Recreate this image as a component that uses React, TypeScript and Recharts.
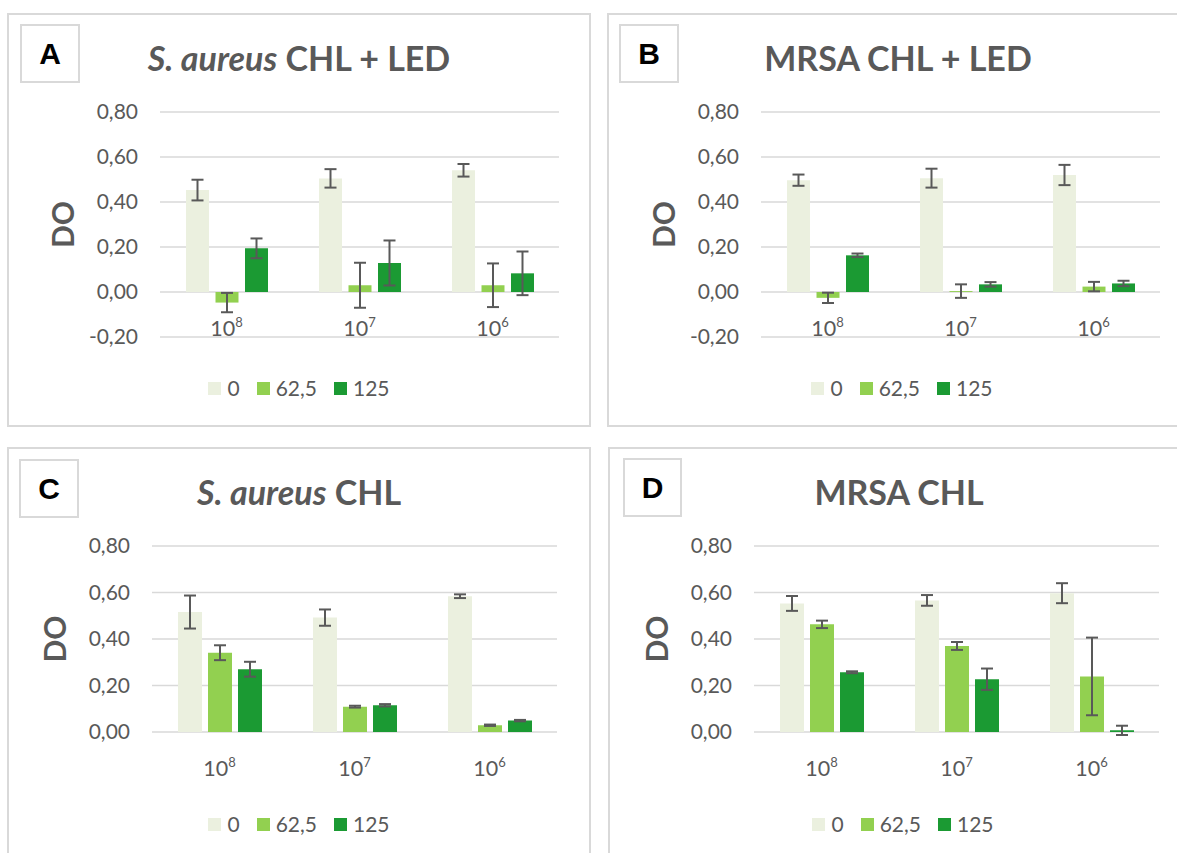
import React from 'react';
import { BarChart, Bar, XAxis, YAxis, CartesianGrid, ErrorBar, Legend } from 'recharts';

// ---------- data ----------
const categories = ['10^8', '10^7', '10^6'];
const seriesNames = ['0', '62,5', '125'];
const seriesColors = ['#EBF0DF', '#92D050', '#1B9A33'];

const ticksWithNeg = [-0.2, 0, 0.2, 0.4, 0.6, 0.8];
const ticksPos = [0, 0.2, 0.4, 0.6, 0.8];

// A: S. aureus CHL + LED
const aVal0 = [0.453, 0.505, 0.541];
const aErr0 = [0.046, 0.041, 0.028];
const aVal62 = [-0.047, 0.03, 0.03];
const aErr62 = [0.043, 0.1, 0.097];
const aVal125 = [0.194, 0.129, 0.083];
const aErr125 = [0.044, 0.1, 0.097];

// B: MRSA CHL + LED
const bVal0 = [0.497, 0.506, 0.52];
const bErr0 = [0.025, 0.042, 0.045];
const bVal62 = [-0.026, 0.004, 0.024];
const bErr62 = [0.023, 0.03, 0.021];
const bVal125 = [0.163, 0.034, 0.038];
const bErr125 = [0.008, 0.01, 0.012];

// C: S. aureus CHL
const cVal0 = [0.516, 0.492, 0.584];
const cErr0 = [0.071, 0.035, 0.008];
const cVal62 = [0.341, 0.109, 0.029];
const cErr62 = [0.032, 0.004, 0.003];
const cVal125 = [0.27, 0.115, 0.049];
const cErr125 = [0.032, 0.005, 0.003];

// D: MRSA CHL
const dVal0 = [0.553, 0.566, 0.597];
const dErr0 = [0.032, 0.023, 0.043];
const dVal62 = [0.463, 0.37, 0.239];
const dErr62 = [0.016, 0.017, 0.167];
const dVal125 = [0.257, 0.227, 0.007];
const dErr125 = [0.004, 0.046, 0.02];

function buildRows(v0: number[], e0: number[], v1: number[], e1: number[], v2: number[], e2: number[]) {
  return categories.map((cat, i) => ({
    cat,
    s0: v0[i], e0: e0[i],
    s1: v1[i], e1: e1[i],
    s2: v2[i], e2: e2[i],
  }));
}

const TEXT = '#595959';
const GRID = '#D9D9D9';
const FONT = 'Lato, "Open Sans", sans-serif';

const panels = [
  {
    letter: 'A',
    title: (<><i>S. aureus</i> CHL + LED</>),
    box: { left: 7, top: 13, width: 584, height: 414 },
    letterBox: { left: 20, top: 24, width: 60, height: 59 },
    titleCenter: { x: 299, y: 58 },
    plot: { left: 160, top: 112, right: 559, bottom: 337 },
    domain: [-0.2, 0.8],
    ticks: ticksWithNeg,
    barSize: 23,
    barGap: 6.5,
    legendY: 388,
    labelOffset: -1,
    rows: buildRows(aVal0, aErr0, aVal62, aErr62, aVal125, aErr125),
  },
  {
    letter: 'B',
    title: (<>MRSA CHL + LED</>),
    box: { left: 607, top: 13, width: 590, height: 414 },
    letterBox: { left: 619, top: 24, width: 60, height: 59 },
    titleCenter: { x: 898, y: 58 },
    plot: { left: 761, top: 112, right: 1160, bottom: 337 },
    domain: [-0.2, 0.8],
    ticks: ticksWithNeg,
    barSize: 23,
    barGap: 6.5,
    legendY: 388,
    labelOffset: -1,
    rows: buildRows(bVal0, bErr0, bVal62, bErr62, bVal125, bErr125),
  },
  {
    letter: 'C',
    title: (<><i>S. aureus</i> CHL</>),
    box: { left: 7, top: 447, width: 584, height: 420 },
    letterBox: { left: 19, top: 459, width: 60, height: 59 },
    titleCenter: { x: 299, y: 492 },
    plot: { left: 152, top: 546, right: 557, bottom: 732 },
    domain: [0, 0.8],
    ticks: ticksPos,
    barSize: 24,
    barGap: 6,
    legendY: 824,
    labelOffset: 44,
    rows: buildRows(cVal0, cErr0, cVal62, cErr62, cVal125, cErr125),
  },
  {
    letter: 'D',
    title: (<>MRSA CHL</>),
    box: { left: 608, top: 447, width: 590, height: 420 },
    letterBox: { left: 623, top: 458, width: 59, height: 59 },
    titleCenter: { x: 899, y: 492 },
    plot: { left: 754, top: 546, right: 1159, bottom: 732 },
    domain: [0, 0.8],
    ticks: ticksPos,
    barSize: 24,
    barGap: 6,
    legendY: 824,
    labelOffset: 44,
    rows: buildRows(dVal0, dErr0, dVal62, dErr62, dVal125, dErr125),
  },
];

const Y_AXIS_W = 60;
const X_AXIS_H = 40;

const XTick = (props: any) => {
  const { x, y, payload, labelOffset } = props;
  const [base, exp] = String(payload.value).split('^');
  return (
    <text x={x} y={y + labelOffset} textAnchor="middle" fill={TEXT} fontFamily={FONT} fontSize={21.5}>
      <tspan>{base}</tspan>
      <tspan dy={-9} fontSize={13}>{exp}</tspan>
    </text>
  );
};

const renderLegend = (props: any) => {
  const payload = [...(props.payload || [])].sort(
    (a: any, b: any) => seriesNames.indexOf(a.value) - seriesNames.indexOf(b.value)
  );
  return (
    <div style={{ display: 'flex', justifyContent: 'center', alignItems: 'center', height: 24, fontFamily: FONT, fontSize: 21, color: TEXT }}>
      {payload.map((p: any, i: number) => (
        <div key={i} style={{ display: 'flex', alignItems: 'center', marginLeft: i ? 17 : 0 }}>
          <span style={{ width: 13, height: 13, background: p.color, display: 'inline-block', marginRight: 6 }} />
          <span style={{ lineHeight: '24px' }}>{p.value}</span>
        </div>
      ))}
    </div>
  );
};

const fmt = (v: number) => v.toFixed(2).replace('.', ',');

function Panel({ cfg }: { cfg: any }) {
  const { box, plot, letterBox, titleCenter } = cfg;
  const margin = {
    left: plot.left - box.left - Y_AXIS_W,
    right: box.left + box.width - plot.right,
    top: plot.top - box.top,
    bottom: box.top + box.height - plot.bottom - X_AXIS_H,
  };
  const dataKeys = ['s0', 's1', 's2'];
  const errKeys = ['e0', 'e1', 'e2'];
  return (
    <>
      <div style={{ position: 'absolute', left: box.left, top: box.top, width: box.width, height: box.height, border: `2px solid ${GRID}`, boxSizing: 'border-box', background: '#fff' }} />
      <div style={{ position: 'absolute', left: box.left, top: box.top }}>
        <BarChart width={box.width} height={box.height} data={cfg.rows} margin={margin} barSize={cfg.barSize} barGap={cfg.barGap}>
          <CartesianGrid vertical={false} stroke={GRID} strokeWidth={1.7} />
          <XAxis
            dataKey="cat"
            axisLine={false}
            tickLine={false}
            tickSize={0}
            tickMargin={0}
            height={X_AXIS_H}
            interval={0}
            tick={(p: any) => <XTick {...p} labelOffset={cfg.labelOffset} />}
          />
          <YAxis
            width={Y_AXIS_W}
            domain={cfg.domain}
            allowDataOverflow
            ticks={cfg.ticks}
            interval={0}
            axisLine={false}
            tickLine={false}
            tickSize={0}
            tickMargin={22}
            tickFormatter={fmt}
            tick={{ fill: TEXT, fontSize: 21, fontFamily: FONT }}
            label={{
              content: (lp: any) => {
                const vb = lp.viewBox || {};
                const cx = (vb.x ?? 0) - 38;
                const cy = (vb.y ?? 0) + (vb.height ?? 0) / 2;
                return (
                  <text x={cx} y={cy} transform={`rotate(-90, ${cx}, ${cy})`} textAnchor="middle" dominantBaseline="central" fill={TEXT} fontFamily={FONT} fontWeight={700} fontSize={30}>
                    DO
                  </text>
                );
              },
            }}
          />
          <Legend
            layout="horizontal"
            verticalAlign="middle"
            align="center"
            content={renderLegend}
            wrapperStyle={{ top: cfg.legendY - box.top - 12, left: 0, width: box.width, height: 24, margin: 0 }}
          />
          {dataKeys.map((k, i) => (
            <Bar key={k} dataKey={k} name={seriesNames[i]} fill={seriesColors[i]} isAnimationActive={false}>
              <ErrorBar dataKey={errKeys[i]} width={6} stroke="#595959" strokeWidth={2} direction="y" isAnimationActive={false} />
            </Bar>
          ))}
        </BarChart>
      </div>
      <div style={{ position: 'absolute', left: titleCenter.x - 300, top: titleCenter.y - 20, width: 600, height: 40, lineHeight: '40px', textAlign: 'center', fontFamily: FONT, fontWeight: 700, fontSize: 34, color: TEXT, whiteSpace: 'nowrap' }}>
        {cfg.title}
      </div>
      <div style={{ position: 'absolute', left: letterBox.left, top: letterBox.top, width: letterBox.width, height: letterBox.height, border: `2px solid ${GRID}`, boxSizing: 'border-box', background: '#fff', display: 'flex', alignItems: 'center', justifyContent: 'center', fontFamily: '"Liberation Sans", Arial, sans-serif', fontWeight: 700, fontSize: 30, color: '#000' }}>
        {cfg.letter}
      </div>
    </>
  );
}

export default function App() {
  return (
    <div style={{ position: 'absolute', left: 0, top: 0, width: 1177, height: 853, overflow: 'hidden', background: '#fff' }}>
      {panels.map((p) => (
        <Panel key={p.letter} cfg={p} />
      ))}
    </div>
  );
}
